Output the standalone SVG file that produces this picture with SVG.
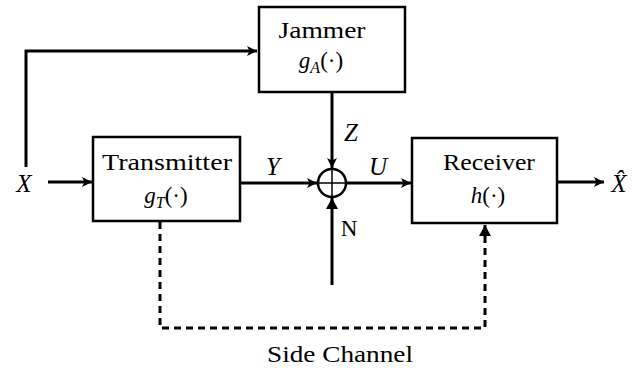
<svg xmlns="http://www.w3.org/2000/svg" width="642" height="368" viewBox="0 0 642 368">
  <style>
    text { font-family: "Liberation Serif", "DejaVu Serif", serif; font-size: 23px; fill: #000; }
    .box { fill: #fff; stroke: #000; stroke-width: 2.5; }
    .wire { fill: none; stroke: #000; stroke-width: 3; }
    .dash { fill: none; stroke: #000; stroke-width: 3; stroke-dasharray: 7 5; }
    .it { font-style: italic; }
    .var { font-style: italic; font-size: 25px; }
    .sub { font-size: 16px; }
  </style>
  <defs>
    <marker id="arr" markerUnits="userSpaceOnUse" markerWidth="12" markerHeight="12" refX="10" refY="5" orient="auto">
      <path d="M0,0 L10,5 L0,10 L2.5,5 Z" fill="#000"/>
    </marker>
    <marker id="arrBig" markerUnits="userSpaceOnUse" markerWidth="14" markerHeight="14" refX="11" refY="6" orient="auto">
      <path d="M0,0 L11,6 L0,12 Z" fill="#000"/>
    </marker>
  </defs>

  <!-- connectors -->
  <g id="connectors">
    <path class="wire" d="M26,167 V51 H257" marker-end="url(#arr)"/>
    <path class="wire" d="M48,182 H92" marker-end="url(#arr)"/>
    <path class="wire" d="M240,183 H317" marker-end="url(#arr)"/>
    <path class="wire" d="M332,92 V168" marker-end="url(#arr)"/>
    <path class="wire" d="M332,285 V198" marker-end="url(#arrBig)"/>
    <path class="wire" d="M346,183 H411" marker-end="url(#arr)"/>
    <path class="wire" d="M557,182 H604" marker-end="url(#arr)"/>
    <path class="dash" d="M160,222 V328 H485 V225" marker-end="url(#arrBig)"/>
  </g>

  <!-- source / sink labels and signal names -->
  <g id="labels">
    <text class="var" x="24" y="192" text-anchor="middle">X</text>
    <text class="var" x="273" y="175" text-anchor="middle">Y</text>
    <text class="var" x="351" y="141" text-anchor="middle">Z</text>
    <text class="var" x="378" y="175" text-anchor="middle">U</text>
    <text x="349" y="236" text-anchor="middle">N</text>
    <text class="var" x="619" y="192" text-anchor="middle">X̂</text>
    <text x="340" y="362" text-anchor="middle" textLength="146" lengthAdjust="spacingAndGlyphs">Side Channel</text>
  </g>

  <g id="jammer">
    <rect class="box" x="259" y="7" width="146" height="85"/>
    <text x="322" y="38" text-anchor="middle" textLength="87" lengthAdjust="spacingAndGlyphs">Jammer</text>
    <text class="it" x="321" y="68" text-anchor="middle">g<tspan class="sub" dy="5">A</tspan><tspan dy="-5" font-style="normal">(·)</tspan></text>
  </g>

  <g id="transmitter">
    <rect class="box" x="93" y="137" width="147" height="84"/>
    <text x="167" y="170" text-anchor="middle" textLength="130" lengthAdjust="spacingAndGlyphs">Transmitter</text>
    <text class="it" x="166" y="203" text-anchor="middle">g<tspan class="sub" dy="5">T</tspan><tspan dy="-5" font-style="normal">(·)</tspan></text>
  </g>

  <g id="adder">
    <circle cx="332" cy="183" r="14" fill="#fff" stroke="#000" stroke-width="2.5"/>
    <path d="M318,183 H346 M332,169 V197" stroke="#000" stroke-width="1.5"/>
  </g>

  <g id="receiver">
    <rect class="box" x="412" y="138" width="145" height="85"/>
    <text x="489" y="170" text-anchor="middle" textLength="92" lengthAdjust="spacingAndGlyphs">Receiver</text>
    <text class="it" x="488" y="203" text-anchor="middle">h<tspan font-style="normal">(·)</tspan></text>
  </g>
</svg>
